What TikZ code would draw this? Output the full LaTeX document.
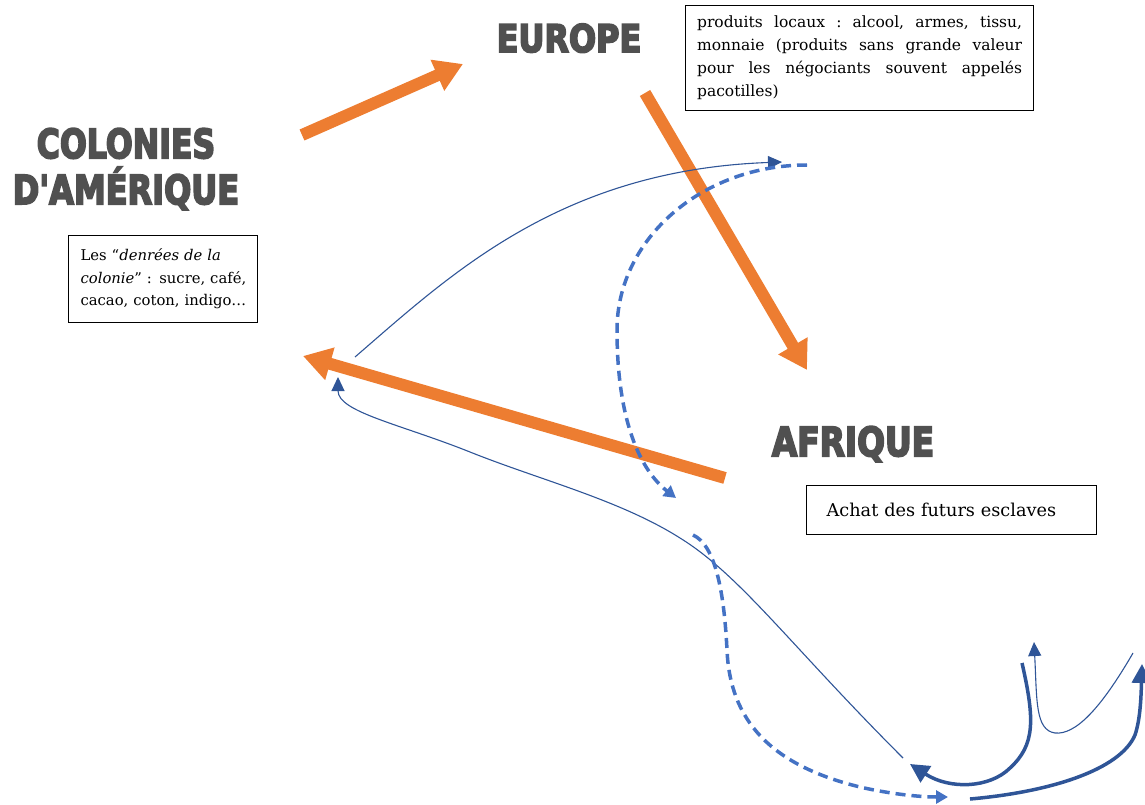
\documentclass[tikz,border=0pt]{standalone}
\usepackage{fontspec}
\setmainfont{DejaVu Serif}
\newfontfamily\titlefont{DejaVu Sans Bold}[FakeBold=5]
\usetikzlibrary{arrows.meta}
\definecolor{orangeA}{HTML}{ED7D31}
\definecolor{blueD}{HTML}{2F5597}
\definecolor{blueL}{HTML}{4472C4}
\definecolor{titlegray}{HTML}{505050}
\newcommand\jline[1]{\makebox[325pt][s]{\frenchspacing\spaceskip=.3em plus 3em\xspaceskip=.3em plus 3em\relax #1}}
\tikzset{
  title/.style={font=\titlefont\fontsize{40}{44}\selectfont, text=titlegray, inner sep=0pt, anchor=base},
  infobox/.style={draw=black, line width=1.2pt, anchor=north west, inner ysep=0pt},
  bigarrow/.style={draw=orangeA, line width=12pt, -{Triangle[length=28pt,width=32pt]}},
  thinblue/.style={draw=blueD, line width=1.1pt, -{Triangle[length=14pt,width=13pt]}},
  thickblue/.style={draw=blueD, line width=3.5pt, -{Triangle[length=19pt,width=19pt]}},
  dashblue/.style={draw=blueL, line width=3.5pt, dash pattern=on 10pt off 6pt, -{Triangle[length=12pt,width=13pt]}}
}
\begin{document}
\begin{tikzpicture}[x=1pt,y=-1pt]
\useasboundingbox (0,0) rectangle (1145,805);

% titles
\node[title] (europe) at (569,52) {\scalebox{0.84}[1]{\fontsize{38}{44}\selectfont EUROPE}};
\node[title] (colonies1) at (126,158) {\scalebox{0.79}[1]{COLONIES}};
\node[title] (colonies2) at (126,204) {\scalebox{0.80}[1]{D'AMÉRIQUE}};
\node[title] (afrique) at (853,456) {\scalebox{0.82}[1]{AFRIQUE}};

% boxes
\node[infobox, minimum width=348pt, minimum height=105pt, text width=325pt, inner xsep=11.5pt, align=left,
      font=\fontsize{15.5}{23}\selectfont] (boxeur) at (685,5)
  {\jline{produits locaux : alcool, armes, tissu,}\\
   \jline{monnaie (produits sans grande valeur}\\
   \jline{pour les négociants souvent appelés}\\
   pacotilles)};
\node[infobox, minimum width=189pt, minimum height=87pt, text width=175pt, inner xsep=7pt, align=left,
      font=\fontsize{14.8}{22.5}\selectfont] (boxam) at (68,235)
  {\hspace*{5pt}Les “\textit{denrées de la}\\ \hspace*{5pt}\textit{colonie}” : sucre, café,\\ \hspace*{5pt}cacao, coton, indigo…};
\node[infobox, minimum width=290pt, minimum height=49pt, text width=250pt, inner xsep=20pt, align=left,
      font=\fontsize{17.7}{22}\selectfont] (boxaf) at (806,485)
  {Achat des futurs esclaves};

% coordinates
\coordinate (o1s) at (302,135); \coordinate (o1e) at (463,64);
\coordinate (o2s) at (645,93);  \coordinate (o2e) at (807,370);
\coordinate (o3s) at (725,478); \coordinate (o3e) at (303,356);

\coordinate (b1s) at (355,357); \coordinate (b1e) at (782,162);
\coordinate (d1s) at (807,165); \coordinate (d1m) at (617,330); \coordinate (d1e) at (676,498);
\coordinate (b2s) at (903,758); \coordinate (b2e) at (338,377);
\coordinate (d2s) at (693,535); \coordinate (d2e) at (948,797);
\coordinate (t1s) at (1022,663); \coordinate (t1e) at (910,764);
\coordinate (t2s) at (970,799); \coordinate (t2e) at (1142,664);
\coordinate (c1s) at (1133,653); \coordinate (c1e) at (1034,642);

% orange arrows
\draw[bigarrow] (o1s) -- (o1e);
\draw[bigarrow] (o2s) -- (o2e);
\draw[bigarrow] (o3s) -- (o3e);

% blue curves
\draw[thinblue] (b1s) .. controls (450,275) and (560,170) .. (b1e);
\draw[dashblue] (d1s) .. controls (702,165) and (617,239) .. (d1m)
                      .. controls (617,420) and (640,470) .. (d1e);
\draw[thinblue] (b2s) .. controls (790,645) and (740,575) .. (680,538)
                      .. controls (620,500) and (540,480) .. (470,452)
                      .. controls (400,424) and (338,412) .. (b2e);
\draw[dashblue] (d2s) .. controls (715,545) and (724,590) .. (727,650)
                      .. controls (730,720) and (770,765) .. (860,787)
                      .. controls (890,794) and (920,797) .. (d2e);
\draw[thickblue] (t1s) .. controls (1035,720) and (1035,745) .. (1010,768)
                       .. controls (990,788) and (950,790) .. (t1e);
\draw[thickblue] (t2s) .. controls (1050,792) and (1120,770) .. (1135,735)
                       .. controls (1140,720) and (1141,700) .. (t2e);
\draw[thinblue] (c1s) .. controls (1100,710) and (1075,735) .. (1055,733)
                      .. controls (1035,730) and (1037,700) .. (c1e);
\end{tikzpicture}
\end{document}
